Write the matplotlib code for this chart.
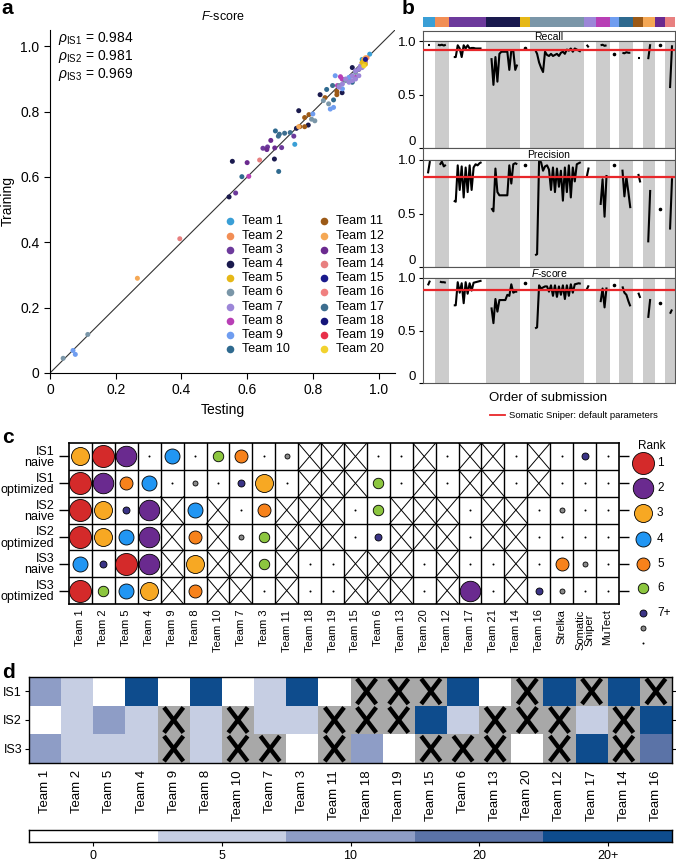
import numpy as np
import matplotlib
matplotlib.use("Agg")
import matplotlib.pyplot as plt
from matplotlib.colors import ListedColormap, BoundaryNorm
from matplotlib.lines import Line2D
from matplotlib import font_manager

_names = {f.name for f in font_manager.fontManager.ttflist}
BASE = "Liberation Sans" if "Liberation Sans" in _names else "DejaVu Sans"
NARROW = "Liberation Sans Narrow" if "Liberation Sans Narrow" in _names else BASE
plt.rcParams["font.family"] = [BASE, "DejaVu Sans"]
plt.rcParams["mathtext.fontset"] = "custom"
plt.rcParams["mathtext.rm"] = BASE
plt.rcParams["mathtext.it"] = BASE + ":italic"
plt.rcParams["mathtext.bf"] = BASE + ":bold"

nan = float("nan")

# ---------------- data: panel a ----------------
team_names = [f"Team {i}" for i in range(1, 21)]
team_colors = ["#3a9fd6", "#f28e55", "#6d3a9c", "#1a1a4e", "#e6b817",
               "#7a96a8", "#9c86d8", "#b83fb5", "#6f9df0", "#2f6a8f",
               "#9c5a17", "#f5a855", "#6b2a8f", "#e88080", "#1a1a8c",
               "#f08080", "#3d6e8f", "#15157a", "#e8304a", "#f2d22e"]
# scatter points: team number, testing, training
sc_team = [6, 6, 9, 9, 12, 14, 14,
           4, 4, 4, 4, 4, 4, 4, 4, 4, 4,
           3, 3, 3, 3, 3,
           13, 13, 13, 13,
           8, 8, 8, 8, 8, 8,
           10, 10, 10, 10, 10, 10,
           17, 17, 17, 17, 17,
           1, 1, 1,
           11, 11, 11, 11, 11, 11, 11, 11,
           6, 6, 6, 6, 6, 6, 6, 6, 6,
           9, 9, 9, 9, 9, 9,
           12, 12, 12,
           7, 7, 7, 7, 7, 7, 7, 7, 7, 7, 7, 7, 7,
           5, 5, 5, 2, 2, 20, 15]
sc_test = [0.040, 0.115, 0.070, 0.077, 0.266, 0.395, 0.638,
           0.545, 0.555, 0.683, 0.750, 0.757, 0.786, 0.822, 0.889, 0.920, 0.940,
           0.565, 0.648, 0.662, 0.742, 0.705,
           0.600, 0.684, 0.672, 0.660,
           0.605, 0.884, 0.889, 0.930, 0.960, 0.875,
           0.584, 0.696, 0.686, 0.842, 0.863, 0.920,
           0.698, 0.714, 0.731, 0.695, 0.860,
           0.745, 0.973, 0.950,
           0.760, 0.775, 0.788, 0.775, 0.837, 0.873, 0.873, 0.950,
           0.796, 0.806, 0.832, 0.848, 0.880, 0.900, 0.910, 0.930, 0.950,
           0.800, 0.853, 0.863, 0.868, 0.890, 0.910,
           0.757, 0.960, 0.955,
           0.900, 0.920, 0.930, 0.940, 0.945, 0.950, 0.930, 0.910, 0.880, 0.960, 0.940, 0.920, 0.890,
           0.950, 0.960, 0.955, 0.965, 0.960, 0.955, 0.960]
sc_train = [0.045, 0.118, 0.069, 0.057, 0.290, 0.411, 0.652,
            0.539, 0.648, 0.655, 0.749, 0.803, 0.759, 0.852, 0.858, 0.935, 0.930,
            0.551, 0.688, 0.692, 0.725, 0.690,
            0.644, 0.689, 0.712, 0.684,
            0.602, 0.907, 0.900, 0.905, 0.955, 0.880,
            0.601, 0.617, 0.741, 0.868, 0.836, 0.890,
            0.731, 0.734, 0.736, 0.725, 0.880,
            0.700, 0.976, 0.960,
            0.754, 0.782, 0.791, 0.754, 0.843, 0.862, 0.852, 0.950,
            0.777, 0.772, 0.834, 0.824, 0.880, 0.895, 0.900, 0.920, 0.940,
            0.793, 0.808, 0.813, 0.910, 0.870, 0.905,
            0.754, 0.965, 0.960,
            0.900, 0.910, 0.925, 0.930, 0.940, 0.935, 0.900, 0.890, 0.875, 0.950, 0.910, 0.895, 0.885,
            0.950, 0.945, 0.955, 0.965, 0.960, 0.940, 0.960]
rho_labels = ["IS1", "IS2", "IS3"]
rho_values = [0.984, 0.981, 0.969]

# ---------------- data: panel b ----------------
b_teams = list(range(1, 15))
b_counts = [6, 7, 19, 17, 5, 27, 6, 7, 5, 7, 5, 6, 5, 5]
recall_by_team = [
    [nan, nan, 0.965, 0.965, nan, nan],
    [nan, 0.965, 0.96, 0.965, 0.958, 0.965, nan],
    [nan, nan, 0.85, 0.85, 0.96, 0.93, 0.85, 0.96, 0.93, 0.96, 0.93, 0.935, 0.935, 0.93, 0.93, 0.93, 0.93, nan, nan],
    [nan, nan, 0.84, 0.59, 0.85, 0.62, 0.88, 0.90, 0.90, 0.90, 0.90, 0.73, 0.91, 0.91, 0.73, 0.78, nan],
    [nan, nan, 0.935, nan, nan],
    [nan, nan, 0.92, 0.88, 0.80, 0.75, 0.71, 0.90, 0.87, 0.86, 0.88, 0.86, 0.87, 0.88, 0.86, 0.89, 0.90, 0.88, 0.92, 0.91, 0.93, 0.90, 0.93, 0.92, 0.91, 0.90, nan],
    [nan, 0.965, 0.94, nan, nan, nan],
    [nan, nan, 0.96, 0.965, 0.955, 0.96, nan],
    [nan, nan, 0.88, nan, nan],
    [nan, 0.89, 0.885, 0.895, 0.89, 0.89, nan],
    [nan, nan, 0.84, 0.84, nan],
    [nan, nan, 0.83, 0.97, nan, nan],
    [nan, nan, 0.965, nan, nan],
    [nan, nan, 0.56, 0.96, nan],
]
precision_by_team = [
    [nan, nan, 0.875, 0.99, nan, nan],
    [nan, nan, 0.955, 0.985, 0.94, 0.955, nan],
    [nan, nan, 0.62, 0.61, 0.95, 0.72, 0.94, 0.65, 0.93, 0.70, 0.95, 0.72, 0.93, 0.96, 0.95, 0.97, 0.98, nan, nan],
    [nan, nan, 0.55, 0.52, 0.92, 0.70, 0.67, 0.67, 0.67, 0.67, 0.67, 0.95, 0.78, 0.96, 0.97, 0.96, nan],
    [nan, nan, 0.95, nan, nan],
    [nan, nan, 0.11, 0.12, 0.99, 0.98, 0.90, 0.94, 0.95, 0.91, 0.72, 0.93, 0.70, 0.92, 0.75, 0.90, 0.62, 0.93, 0.70, 0.95, 0.65, 0.93, 0.80, 0.96, 0.97, 0.98, nan],
    [nan, 0.84, 0.93, nan, nan, nan],
    [nan, nan, 0.58, 0.82, 0.47, 0.86, nan],
    [nan, nan, 0.95, nan, nan],
    [nan, 0.91, 0.66, 0.84, 0.70, 0.55, nan],
    [nan, nan, 0.87, 0.79, nan],
    [nan, nan, 0.23, 0.72, nan, nan],
    [nan, nan, 0.54, nan, nan],
    [nan, nan, 0.35, 0.83, nan],
]
fscore_by_team = [
    [nan, nan, 0.93, 0.975, nan, nan],
    [nan, nan, 0.965, 0.96, 0.96, 0.955, nan],
    [nan, nan, 0.74, 0.74, 0.96, 0.86, 0.95, 0.76, 0.96, 0.85, 0.95, 0.88, 0.955, 0.96, 0.965, 0.97, 0.975, nan, nan],
    [nan, nan, 0.72, 0.57, 0.80, 0.68, 0.79, 0.79, 0.79, 0.79, 0.84, 0.83, 0.94, 0.86, 0.87, 0.87, nan],
    [nan, nan, 0.955, nan, nan],
    [nan, nan, 0.52, 0.53, 0.93, 0.90, 0.91, 0.92, 0.92, 0.87, 0.93, 0.83, 0.93, 0.82, 0.92, 0.84, 0.93, 0.80, 0.93, 0.83, 0.94, 0.86, 0.94, 0.945, 0.95, 0.945, nan],
    [nan, 0.89, 0.93, nan, nan, nan],
    [nan, nan, 0.77, 0.90, 0.72, 0.91, nan],
    [nan, nan, 0.93, nan, nan],
    [nan, 0.92, 0.86, 0.84, 0.78, 0.73, nan],
    [nan, nan, 0.86, 0.81, nan],
    [nan, nan, 0.62, 0.80, nan, nan],
    [nan, nan, 0.765, nan, nan],
    [nan, nan, 0.66, 0.70, nan],
]
sniper_default = {"Recall": 0.92, "Precision": 0.84, "F-score": 0.885}

# ---------------- data: panel c ----------------
c_rows = ["IS1\nnaive", "IS1\noptimized", "IS2\nnaive", "IS2\noptimized", "IS3\nnaive", "IS3\noptimized"]
c_cols = ["Team 1", "Team 2", "Team 5", "Team 4", "Team 9", "Team 8", "Team 10", "Team 7", "Team 3",
          "Team 11", "Team 18", "Team 19", "Team 15", "Team 6", "Team 13", "Team 20", "Team 12",
          "Team 17", "Team 21", "Team 14", "Team 16", "Strelka", "Somatic\nSniper", "MuTect"]
# 0 = no submission (X), 1-6 rank, 7 = 7+, 8 = lower, 9 = lowest
c_rank = [
    [3, 1, 2, 9, 4, 9, 6, 5, 9, 8, 0, 0, 0, 9, 9, 0, 9, 0, 0, 9, 0, 9, 7, 9],
    [1, 2, 5, 4, 9, 8, 9, 7, 3, 9, 0, 0, 0, 6, 9, 0, 9, 0, 0, 9, 0, 9, 9, 9],
    [1, 3, 7, 2, 0, 4, 0, 9, 5, 0, 0, 0, 9, 6, 0, 0, 0, 9, 0, 0, 9, 8, 9, 9],
    [1, 3, 4, 2, 0, 5, 0, 8, 6, 0, 0, 0, 9, 7, 0, 0, 0, 9, 0, 0, 9, 9, 9, 9],
    [4, 7, 1, 2, 0, 3, 0, 0, 6, 0, 9, 9, 0, 0, 0, 9, 0, 9, 9, 0, 9, 5, 8, 9],
    [1, 6, 4, 3, 0, 5, 0, 0, 9, 0, 9, 9, 0, 0, 0, 9, 0, 2, 9, 0, 7, 8, 9, 9],
]
rank_labels = ["1", "2", "3", "4", "5", "6", "7+", "", ""]
rank_colors = ["#d42a2a", "#6a2a8f", "#f7a823", "#2196f3", "#f7821b", "#8cc63f", "#3b3486", "#8a8a8a", "#000000"]
rank_diam_px = [22, 20.5, 18, 15, 13, 10.5, 7, 5, 2]

# ---------------- data: panel d ----------------
d_rows = ["IS1", "IS2", "IS3"]
d_cols = ["Team 1", "Team 2", "Team 5", "Team 4", "Team 9", "Team 8", "Team 10", "Team 7", "Team 3",
          "Team 11", "Team 18", "Team 19", "Team 15", "Team 6", "Team 13", "Team 20", "Team 12",
          "Team 17", "Team 14", "Team 16"]
# -1 = no submission; 0..4 = category index
d_level = [
    [2, 1, 0, 4, 0, 4, 0, 1, 4, 0, -1, -1, -1, 4, 0, -1, 4, -1, 4, -1],
    [0, 1, 2, 1, -1, 1, -1, 1, 1, -1, -1, -1, 4, 1, -1, -1, -1, 1, -1, 4],
    [2, 1, 1, 1, -1, 1, -1, -1, 0, -1, 2, 0, -1, -1, -1, 0, -1, 4, -1, 3],
]
d_cat_labels = ["0", "5", "10", "20", "20+"]
d_cat_colors = ["#ffffff", "#c6cee3", "#8e9dc6", "#5b73a7", "#0e4c8d"]

# ---------------- figure ----------------
W, H = 676, 861
fig = plt.figure(figsize=(W / 100, H / 100), dpi=100)


def px_axes(x0, y0, x1, y1):
    return fig.add_axes([x0 / W, 1 - y1 / H, (x1 - x0) / W, (y1 - y0) / H])


def ftxt(x, y, s, **kw):
    return fig.text(x / W, 1 - y / H, s, **kw)


# ===== panel a =====
ax = px_axes(50, 30, 395, 373)
ax.set_xlim(0, 1.05)
ax.set_ylim(0, 1.05)
ax.plot([0, 1.05], [0, 1.05], color="#333333", lw=0.8, zorder=1)
cols_pts = [team_colors[t - 1] for t in sc_team]
ax.scatter(sc_test, sc_train, s=13, c=cols_pts, lw=0, zorder=2)
for s in ["top", "right"]:
    ax.spines[s].set_visible(False)
ax.set_xticks([0, 0.2, 0.4, 0.6, 0.8, 1.0])
ax.set_xticklabels(["0", "0.2", "0.4", "0.6", "0.8", "1.0"])
ax.set_yticks([0, 0.2, 0.4, 0.6, 0.8, 1.0])
ax.set_yticklabels(["0", "0.2", "0.4", "0.6", "0.8", "1.0"])
ax.tick_params(labelsize=10, length=4, direction="out")
ax.set_xlabel("Testing", fontsize=10, labelpad=4)
ax.set_ylabel("Training", fontsize=10, labelpad=4)
ax.set_title(r"$\mathit{F}$-score", fontsize=9, pad=7)
for i, (lab, val) in enumerate(zip(rho_labels, rho_values)):
    ax.text(0.025, 1.025 - i * 0.055, r"$\rho_{\mathrm{%s}}$ = %.3f" % (lab, val),
            fontsize=10, va="center", ha="left")
# legend (two columns)
for i, name in enumerate(team_names):
    col, row = divmod(i, 10)
    xm = 0.547 + col * 0.287
    ym = 0.464 - row * 0.0435
    ax.scatter([xm], [ym], s=30, color=team_colors[i], lw=0, clip_on=False, zorder=3)
    ax.text(xm + 0.036, ym, name, fontsize=9, va="center", ha="left")

ftxt(1, 14, "a", fontsize=15, fontweight="bold", va="baseline")

# ===== panel b =====
starts = np.concatenate([[0], np.cumsum(b_counts)[:-1]])
total = int(np.sum(b_counts))
bx0, bx1 = 423, 675
ax_s = px_axes(bx0, 17, bx1, 27)
ax_s.bar(starts, 1, width=b_counts, align="edge", color=[team_colors[t - 1] for t in b_teams], lw=0)
ax_s.set_xlim(0, total)
ax_s.set_ylim(0, 1)
ax_s.axis("off")

panels_b = [("Recall", recall_by_team, 31, 41, 148),
            ("Precision", precision_by_team, 148, 160, 267),
            ("F-score", fscore_by_team, 267, 278, 383)]
for title, data, yh, yt, yb in panels_b:
    axh = px_axes(bx0, yh, bx1, yt)
    axh.set_xticks([])
    axh.set_yticks([])
    tt = r"$\mathit{F}$-score" if title == "F-score" else title
    axh.text(0.5, 0.45, tt, transform=axh.transAxes, ha="center", va="center", fontsize=7.5)
    for sp in axh.spines.values():
        sp.set_linewidth(0.8)
        sp.set_color("#555555")
    axb = px_axes(bx0, yt, bx1, yb)
    axb.set_xlim(0, total)
    axb.set_ylim(0, 1.0)
    for k, (st, n) in enumerate(zip(starts, b_counts)):
        if k % 2 == 1:
            axb.axvspan(st, st + n, color="#cccccc", lw=0, zorder=0)
        vals = np.array(data[k], dtype=float)
        xs = st + np.arange(n) + 0.5
        axb.plot(xs, vals, color="black", lw=1.5, zorder=2, solid_capstyle="butt")
        fin = np.isfinite(vals)
        prev = np.concatenate([[False], fin[:-1]])
        nxt = np.concatenate([fin[1:], [False]])
        iso = fin & ~prev & ~nxt
        if iso.any():
            axb.plot(xs[iso], vals[iso], "o", color="black", ms=1.6, zorder=2)
    axb.axhline(sniper_default[title], color="#e8262a", lw=1.6, zorder=3)
    axb.set_xticks([])
    axb.set_yticks([0, 0.5, 1.0])
    axb.set_yticklabels(["0", "0.5", "1.0"])
    axb.tick_params(axis="y", labelsize=9.5, length=3, pad=2)
    ylabs = axb.get_yticklabels()
    ylabs[0].set_va("bottom")
    for sp in axb.spines.values():
        sp.set_linewidth(0.8)
        sp.set_color("#555555")

ftxt(548, 398, "Order of submission", fontsize=9.5, ha="center", va="center")
fig.add_artist(Line2D([490 / W, 505 / W], [1 - 415 / H, 1 - 415 / H], color="#e8262a", lw=1.3))
ftxt(509, 415, "Somatic Sniper: default parameters", fontsize=6.8, ha="left", va="center")
ftxt(402, 14, "b", fontsize=15, fontweight="bold", va="baseline")

# ===== panel c =====
axc = px_axes(69, 443, 619, 604)
ncol, nrow = len(c_cols), len(c_rows)
axc.set_xlim(0, ncol)
axc.set_ylim(nrow, 0)
for i in range(1, ncol):
    axc.axvline(i, color="black", lw=1.0, zorder=1)
for j in range(1, nrow):
    axc.axhline(j, color="black", lw=1.0, zorder=1)
for r, rowvals in enumerate(c_rank):
    for cidx, rk in enumerate(rowvals):
        if rk == 0:
            axc.plot([cidx, cidx + 1], [r, r + 1], color="black", lw=0.7, zorder=1)
            axc.plot([cidx, cidx + 1], [r + 1, r], color="black", lw=0.7, zorder=1)
        else:
            d = rank_diam_px[rk - 1]
            if rk == 9:
                axc.scatter([cidx + 0.5], [r + 0.5], s=(d * 0.72) ** 2, color="black", lw=0, zorder=3)
            else:
                axc.scatter([cidx + 0.5], [r + 0.5], s=(d * 0.72) ** 2, color=rank_colors[rk - 1],
                            edgecolor="black", lw=0.6, zorder=3)
axc.set_yticks(np.arange(nrow) + 0.5)
axc.set_yticklabels(c_rows, fontsize=9, family=NARROW, linespacing=0.9)
axc.set_xticks(np.arange(ncol) + 0.5)
axc.set_xticklabels(c_cols, rotation=90, fontsize=8, linespacing=0.9)
axc.tick_params(axis="y", left=True, right=True, labelright=False, length=7, width=1)
axc.tick_params(axis="x", length=0, pad=4)
for sp in axc.spines.values():
    sp.set_linewidth(1.2)

# rank legend
axl = px_axes(626, 435, 676, 652)
axl.set_xlim(626, 676)
axl.set_ylim(652, 435)
axl.axis("off")
axl.text(652, 446, "Rank", fontsize=8.5, ha="center", va="center", family=NARROW)
leg_y = [463, 488, 513, 539, 564, 588, 613, 628, 643]
for k, yy in enumerate(leg_y):
    d = rank_diam_px[k]
    if k == 8:
        axl.scatter([643], [yy], s=(d * 0.72) ** 2, color="black", lw=0, clip_on=False)
    else:
        axl.scatter([643], [yy], s=(d * 0.72) ** 2, color=rank_colors[k], edgecolor="black",
                    lw=0.6, clip_on=False)
    if rank_labels[k]:
        axl.text(657, yy, rank_labels[k], fontsize=8.5, ha="left", va="center")

ftxt(2, 443, "c", fontsize=15, fontweight="bold", va="baseline")

# ===== panel d =====
axd = px_axes(29, 677, 672, 763)
arr = np.array(d_level, dtype=float)
cmap_d = ListedColormap(["#a8a8a8"] + d_cat_colors)
norm_d = BoundaryNorm([-1.5, -0.5, 0.5, 1.5, 2.5, 3.5, 4.5], cmap_d.N)
axd.pcolormesh(np.arange(arr.shape[1] + 1), np.arange(arr.shape[0] + 1), arr, cmap=cmap_d, norm=norm_d)
axd.set_xlim(0, arr.shape[1])
axd.set_ylim(arr.shape[0], 0)
for r in range(arr.shape[0]):
    for cidx in range(arr.shape[1]):
        if arr[r, cidx] < 0:
            axd.plot([cidx + 0.2, cidx + 0.8], [r + 0.06, r + 0.94], color="black", lw=3.2,
                     solid_capstyle="butt", zorder=3)
            axd.plot([cidx + 0.2, cidx + 0.8], [r + 0.94, r + 0.06], color="black", lw=3.2,
                     solid_capstyle="butt", zorder=3)
axd.set_yticks(np.arange(3) + 0.5)
axd.set_yticklabels(d_rows, fontsize=9)
axd.set_xticks(np.arange(arr.shape[1]) + 0.5)
axd.set_xticklabels(d_cols, rotation=90, fontsize=9.5)
axd.tick_params(axis="y", left=True, right=True, length=3, pad=2)
axd.tick_params(axis="x", length=0, pad=5)
for sp in axd.spines.values():
    sp.set_linewidth(1.0)
    sp.set_zorder(4)

axcb = px_axes(29, 830, 672, 842)
axcb.pcolormesh(np.arange(6), [0, 1], np.arange(5).reshape(1, 5),
                cmap=ListedColormap(d_cat_colors), vmin=-0.5, vmax=4.5)
axcb.set_xlim(0, 5)
axcb.set_ylim(0, 1)
axcb.set_yticks([])
axcb.set_xticks(np.arange(5) + 0.5)
axcb.set_xticklabels(d_cat_labels, fontsize=9)
axcb.tick_params(axis="x", length=3, pad=3)
for sp in axcb.spines.values():
    sp.set_linewidth(1.0)

ftxt(2, 678, "d", fontsize=15, fontweight="bold", va="baseline")

fig.savefig("out.png", dpi=100)
